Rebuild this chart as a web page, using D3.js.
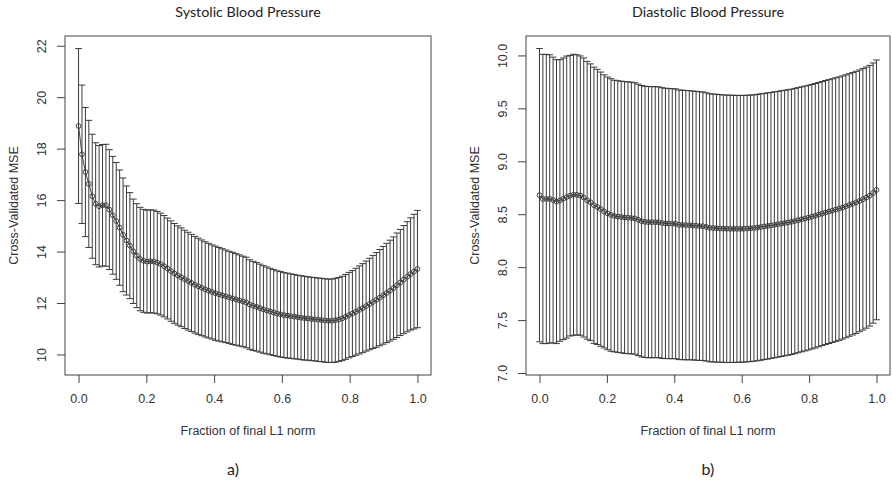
<!DOCTYPE html>
<html>
<head>
<meta charset="utf-8">
<script src="https://cdn.jsdelivr.net/npm/d3@7"></script>
<style>
  html, body { margin: 0; padding: 0; background: #fff; }
  svg { display: block; }
</style>
</head>
<body>
<svg id="chart" width="892" height="485"></svg>
<script>
// ---- Data ----
// cv.lars grid: 100 fractions from 0 to 1
const fraction = d3.range(100).map(i => i / 99);

const xTicks = [0.0, 0.2, 0.4, 0.6, 0.8, 1.0];
const sbpTicks = [10, 12, 14, 16, 18, 20, 22];
const dbpTicks = [7.0, 7.5, 8.0, 8.5, 9.0, 9.5, 10.0];

const titles = ["Systolic Blood Pressure", "Diastolic Blood Pressure"];
const panelLabels = ["a)", "b)"];
const xTitle = "Fraction of final L1 norm";
const yTitle = "Cross-Validated MSE";

// Systolic: cross-validated MSE and its standard error
const sbpMean = [
  18.88, 17.78, 17.09, 16.63, 16.15, 15.86, 15.76, 15.80, 15.80, 15.63,
  15.41, 15.19, 14.93, 14.65, 14.43, 14.23, 14.01, 13.84, 13.71, 13.64,
  13.61, 13.62, 13.61, 13.57, 13.51, 13.43, 13.34, 13.24, 13.15, 13.07,
  13.00, 12.92, 12.85, 12.78, 12.71, 12.65, 12.59, 12.53, 12.48, 12.43,
  12.38, 12.34, 12.30, 12.26, 12.22, 12.18, 12.14, 12.10, 12.06, 12.02,
  11.94, 11.89, 11.85, 11.80, 11.75, 11.71, 11.67, 11.63, 11.59, 11.56,
  11.53, 11.51, 11.49, 11.47, 11.45, 11.43, 11.41, 11.40, 11.38, 11.37,
  11.35, 11.34, 11.32, 11.31, 11.31, 11.33, 11.36, 11.40, 11.46, 11.53,
  11.59, 11.66, 11.73, 11.80, 11.88, 11.96, 12.04, 12.12, 12.21, 12.30,
  12.39, 12.48, 12.58, 12.69, 12.80, 12.91, 13.02, 13.13, 13.22, 13.32
];
const sbpSE = [
  3.01, 2.69, 2.51, 2.47, 2.41, 2.37, 2.36, 2.36, 2.37, 2.33,
  2.29, 2.27, 2.24, 2.21, 2.12, 2.06, 2.03, 2.02, 2.01, 2.00,
  2.00, 2.00, 2.00, 1.99, 1.98, 1.97, 1.96, 1.95, 1.94, 1.93,
  1.92, 1.91, 1.90, 1.89, 1.88, 1.87, 1.86, 1.85, 1.84, 1.83,
  1.83, 1.82, 1.81, 1.80, 1.79, 1.79, 1.78, 1.77, 1.76, 1.76,
  1.74, 1.73, 1.72, 1.71, 1.70, 1.69, 1.68, 1.67, 1.66, 1.66,
  1.65, 1.65, 1.64, 1.64, 1.63, 1.63, 1.63, 1.62, 1.62, 1.62,
  1.62, 1.62, 1.62, 1.62, 1.62, 1.63, 1.63, 1.64, 1.65, 1.66,
  1.67, 1.69, 1.71, 1.73, 1.75, 1.78, 1.81, 1.84, 1.87, 1.90,
  1.93, 1.96, 1.99, 2.03, 2.06, 2.10, 2.14, 2.18, 2.23, 2.28
];

// Diastolic: cross-validated MSE and its standard error
const dbpMean = [
  8.680, 8.644, 8.644, 8.645, 8.634, 8.619, 8.630, 8.646, 8.662, 8.675,
  8.684, 8.683, 8.676, 8.658, 8.632, 8.613, 8.585, 8.569, 8.548, 8.527,
  8.508, 8.493, 8.483, 8.478, 8.474, 8.469, 8.467, 8.464, 8.460, 8.447,
  8.434, 8.428, 8.425, 8.425, 8.425, 8.424, 8.417, 8.413, 8.412, 8.410,
  8.410, 8.400, 8.399, 8.397, 8.396, 8.394, 8.391, 8.388, 8.387, 8.380,
  8.372, 8.370, 8.368, 8.366, 8.364, 8.363, 8.362, 8.362, 8.362, 8.362,
  8.363, 8.365, 8.367, 8.370, 8.374, 8.379, 8.384, 8.389, 8.394, 8.400,
  8.405, 8.411, 8.417, 8.422, 8.428, 8.436, 8.444, 8.452, 8.460, 8.468,
  8.477, 8.486, 8.496, 8.506, 8.516, 8.525, 8.534, 8.544, 8.553, 8.563,
  8.575, 8.587, 8.599, 8.612, 8.626, 8.641, 8.657, 8.675, 8.700, 8.730
];
const dbpSE = [
  1.385, 1.366, 1.366, 1.361, 1.350, 1.341, 1.330, 1.330, 1.332, 1.325,
  1.327, 1.323, 1.319, 1.318, 1.312, 1.307, 1.305, 1.300, 1.295, 1.290,
  1.288, 1.287, 1.283, 1.283, 1.283, 1.284, 1.284, 1.283, 1.282, 1.282,
  1.282, 1.281, 1.281, 1.280, 1.280, 1.279, 1.278, 1.277, 1.276, 1.275,
  1.274, 1.273, 1.273, 1.272, 1.271, 1.270, 1.270, 1.269, 1.268, 1.267,
  1.266, 1.265, 1.265, 1.264, 1.263, 1.263, 1.262, 1.262, 1.261, 1.260,
  1.260, 1.259, 1.259, 1.258, 1.258, 1.258, 1.257, 1.257, 1.256, 1.256,
  1.255, 1.255, 1.254, 1.254, 1.253, 1.253, 1.252, 1.251, 1.251, 1.250,
  1.249, 1.249, 1.248, 1.247, 1.247, 1.246, 1.245, 1.245, 1.244, 1.243,
  1.242, 1.240, 1.239, 1.238, 1.236, 1.235, 1.233, 1.231, 1.229, 1.227
];

// ---- Drawing ----
const svg = d3.select("#chart");
const axisFont = "'Liberation Sans', Arial, sans-serif";
const titleFont = "Lato, 'Open Sans', sans-serif";
const ink = "#333";

const panels = [
  { box: { x0: 65, x1: 431, y0: 36, y1: 375 }, mean: sbpMean, se: sbpSE, yTicks: sbpTicks,
    fmt: d3.format("d"), title: titles[0], label: panelLabels[0], labelX: 233 },
  { box: { x0: 526, x1: 890, y0: 36, y1: 375 }, mean: dbpMean, se: dbpSE, yTicks: dbpTicks,
    fmt: d3.format(".1f"), title: titles[1], label: panelLabels[1], labelX: 708 }
];

panels.forEach(p => {
  const b = p.box;
  const data = fraction.map((f, i) => ({ f, m: p.mean[i], up: p.mean[i] + p.se[i], lo: p.mean[i] - p.se[i] }));
  const lo = d3.min(data, d => d.lo), hi = d3.max(data, d => d.up);
  const ext = (hi - lo) * 0.04;
  const x = d3.scaleLinear().domain([-0.04, 1.04]).range([b.x0, b.x1]);
  const y = d3.scaleLinear().domain([lo - ext, hi + ext]).range([b.y1, b.y0]);
  const g = svg.append("g");
  const barw = 1 / fraction.length;

  // error bars
  const bars = g.append("g").attr("stroke", "#3a3a3a").attr("stroke-width", 1).attr("fill", "none");
  bars.selectAll("line.v").data(data).join("line").attr("class", "v")
    .attr("x1", d => x(d.f)).attr("x2", d => x(d.f))
    .attr("y1", d => y(d.up)).attr("y2", d => y(d.lo));
  bars.selectAll("line.u").data(data).join("line").attr("class", "u")
    .attr("x1", d => x(d.f - barw)).attr("x2", d => x(d.f + barw))
    .attr("y1", d => y(d.up)).attr("y2", d => y(d.up));
  bars.selectAll("line.l").data(data).join("line").attr("class", "l")
    .attr("x1", d => x(d.f - barw)).attr("x2", d => x(d.f + barw))
    .attr("y1", d => y(d.lo)).attr("y2", d => y(d.lo));

  // mean curve (type = "b")
  g.append("path").datum(data)
    .attr("fill", "none").attr("stroke", "#333").attr("stroke-width", 0.9)
    .attr("d", d3.line().x(d => x(d.f)).y(d => y(d.m)));
  g.append("g").selectAll("circle").data(data).join("circle")
    .attr("cx", d => x(d.f)).attr("cy", d => y(d.m)).attr("r", 2.4)
    .attr("fill", "none").attr("stroke", "#333").attr("stroke-width", 0.9);

  // box
  g.append("rect").attr("x", b.x0).attr("y", b.y0)
    .attr("width", b.x1 - b.x0).attr("height", b.y1 - b.y0)
    .attr("fill", "none").attr("stroke", "#444").attr("stroke-width", 1);

  // x axis
  const xa = g.append("g").attr("transform", `translate(0,${b.y1})`)
    .call(d3.axisBottom(x).tickValues(xTicks).tickFormat(d3.format(".1f")).tickSize(8).tickPadding(11));
  xa.select(".domain").remove();
  xa.selectAll("line").attr("stroke", "#444");
  xa.selectAll("text").attr("font-family", axisFont).attr("font-size", 12.5).attr("fill", ink);

  // y axis (labels parallel to axis, as in R)
  const ya = g.append("g").attr("transform", `translate(${b.x0},0)`)
    .call(d3.axisLeft(y).tickValues(p.yTicks).tickFormat(p.fmt).tickSize(8));
  ya.select(".domain").remove();
  ya.selectAll("line").attr("stroke", "#444");
  ya.selectAll("text")
    .attr("x", null).attr("dy", null)
    .attr("transform", "translate(-19,0) rotate(-90)")
    .attr("text-anchor", "middle")
    .attr("font-family", axisFont).attr("font-size", 12.5).attr("fill", ink);

  // axis titles
  g.append("text").attr("x", (b.x0 + b.x1) / 2).attr("y", 435)
    .attr("text-anchor", "middle").attr("font-family", axisFont).attr("font-size", 12.5).attr("fill", ink)
    .text(xTitle);
  g.append("text").attr("transform", `translate(${b.x0 - 47},${(b.y0 + b.y1) / 2}) rotate(-90)`)
    .attr("text-anchor", "middle").attr("font-family", axisFont).attr("font-size", 12.5).attr("fill", ink)
    .text(yTitle);

  // panel title and label
  g.append("text").attr("x", (b.x0 + b.x1) / 2).attr("y", 17)
    .attr("text-anchor", "middle").attr("font-family", titleFont).attr("font-size", 14.3).attr("fill", "#222")
    .text(p.title);
  g.append("text").attr("x", p.labelX).attr("y", 475)
    .attr("text-anchor", "middle").attr("font-family", titleFont).attr("font-size", 16).attr("fill", "#222")
    .text(p.label);
});
</script>
</body>
</html>
